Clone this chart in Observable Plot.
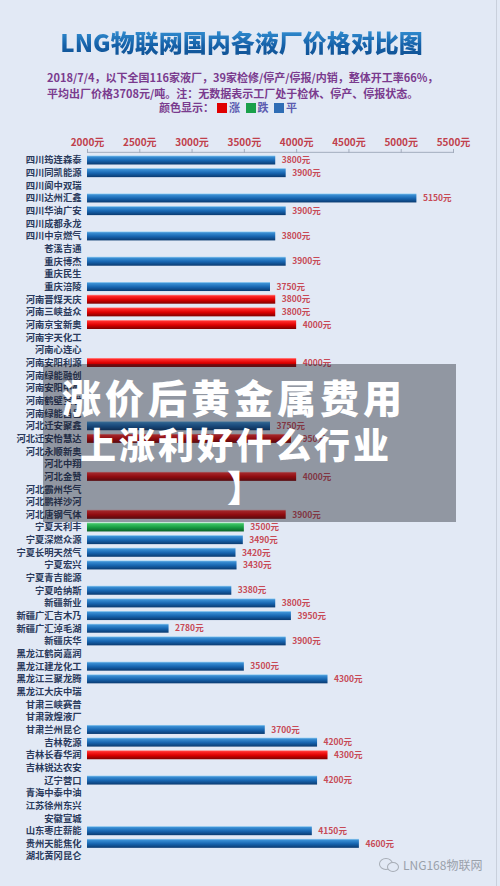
<!DOCTYPE html>
<html>
<head>
<meta charset="utf-8">
<script src="https://cdn.jsdelivr.net/npm/d3@7"></script>
<script src="https://cdn.jsdelivr.net/npm/@observablehq/plot@0.6"></script>
<style>
  html, body { margin: 0; padding: 0; }
  body { width: 500px; height: 886px; background: #e2e9f5; position: relative; overflow: hidden;
         font-family: "Noto Sans CJK SC", "Noto Sans", sans-serif; }
  #border { position: absolute; left: 496px; top: 0; width: 1px; height: 886px; background: #c9d0dc; }
  #title { position: absolute; left: 0; width: 483px; top: 25px; text-align: center; font-size: 24px; font-weight: 900;
           line-height: 34px; color: #1b6db3;
           background: linear-gradient(#3d9fe0, #1560a8 60%, #0f4f8f); -webkit-background-clip: text; background-clip: text;
           -webkit-text-fill-color: transparent; }
  .sub { position: absolute; left: 47px; font-size: 11px; font-weight: bold; color: #7a3b8e; line-height: 14px; white-space: nowrap; }
  #legend { position: absolute; top: 100px; left: 159px; font-size: 11px; font-weight: bold; color: #7a3b8e; line-height: 14px; white-space: nowrap; }
  #legend .sw { display: inline-block; width: 10px; height: 10px; vertical-align: -1px; margin: 0 2px 0 3px; }
  #legend .t { color: #5c5cb0; }
  #chart { position: absolute; left: 0; top: 125px; }
  #ov { position: absolute; left: 43px; top: 364px; width: 413px; height: 158px; background: rgba(25,28,38,0.40); }
  .ovt { position: absolute; color: #fff; font-weight: 900; white-space: nowrap; }
  #wm { position: absolute; left: 403px; top: 856px; font-size: 12px; color: #9aa1ab; }
  .bub { position: absolute; border: 1.5px solid #a7adb6; border-radius: 50%; background: #e2e9f5; }
</style>
</head>
<body>
<div id="border"></div>
<div id="title">LNG物联网国内各液厂价格对比图</div>
<div class="sub" style="top:70px">2018/7/4，以下全国116家液厂，39家检修/停产/停报/内销，整体开工率66%，</div>
<div class="sub" style="top:86px">平均出厂价格3708元/吨。注：无数据表示工厂处于检休、停产、停报状态。</div>
<div id="legend"></div>
<div id="chart"></div>
<div id="ov"></div>
<div class="ovt" style="left:62px; top:372px; font-size:39px; letter-spacing:4px; line-height:48px;">涨价后黄金属费用</div>
<div class="ovt" style="left:80px; top:420px; font-size:36px; letter-spacing:3px; line-height:46px;">上涨利好什么行业</div>
<div class="ovt" style="left:227px; top:464px; font-size:36px; line-height:44px;">】</div>
<div class="bub" style="left:379px; top:858px; width:12px; height:10px;"></div>
<div class="bub" style="left:387px; top:862px; width:10px; height:8px;"></div>
<div id="wm">LNG168物联网</div>
<script>
// ---- data ----
const names = [
  "四川筠连森泰", "四川同凯能源", "四川阆中双瑞", "四川达州汇鑫", "四川华油广安", "四川成都永龙", "四川中京燃气",
  "苍溪吉通", "重庆博杰", "重庆民生", "重庆涪陵",
  "河南晋煤天庆", "河南三峡益众", "河南京宝新奥", "河南宇天化工", "河南心连心", "河南安阳利源", "河南绿能融创",
  "河南安阳中盈", "河南鹤壁宝发", "河南绿能昌邑",
  "河北迁安聚鑫", "河北迁安怡慧达", "河北永顺新奥", "河北中翔", "河北金赞", "河北霸州华气", "河北鹏祥沙河", "河北唐钢气体",
  "宁夏天利丰", "宁夏深燃众源", "宁夏长明天然气", "宁夏宏兴", "宁夏青吉能源", "宁夏哈纳斯",
  "新疆新业", "新疆广汇吉木乃", "新疆广汇淖毛湖", "新疆庆华",
  "黑龙江鹤岗嘉润", "黑龙江建龙化工", "黑龙江三聚龙腾", "黑龙江大庆中瑞",
  "甘肃三峡赛普", "甘肃敦煌液厂", "甘肃兰州昆仑",
  "吉林乾源", "吉林长春华润", "吉林锐达农安", "辽宁营口", "青海中泰中油", "江苏徐州东兴", "安徽宣城",
  "山东枣庄薪能", "贵州天能焦化", "湖北黄冈昆仑"
];
const prices = [
  3800, 3900, null, 5150, 3900, null, 3800,
  null, 3900, null, 3750,
  3800, 3800, 4000, null, null, 4000, null,
  null, null, null,
  3750, 3950, null, null, 4000, null, null, 3900,
  3500, 3490, 3420, 3430, null, 3380,
  3800, 3950, 2780, 3900,
  null, 3500, 4300, null,
  null, null, 3700,
  4200, 4300, null, 4200, null, null, null,
  4150, 4600, null
];
// 涨 = up, 跌 = down, 平 = flat
const trends = [
  "平", "平", "平", "平", "平", "平", "平",
  "平", "平", "平", "平",
  "涨", "涨", "涨", "平", "平", "涨", "平",
  "平", "平", "平",
  "平", "涨", "平", "平", "涨", "平", "平", "涨",
  "跌", "平", "平", "平", "平", "平",
  "平", "平", "平", "平",
  "平", "平", "平", "平",
  "平", "平", "平",
  "平", "涨", "平", "平", "平", "平", "平",
  "平", "平", "平"
];
const xTicks = [2000, 2500, 3000, 3500, 4000, 4500, 5000, 5500];
const legendItems = ["涨", "跌", "平"];
const legendColors = ["#e00000", "#1aa04a", "#2f6db5"];
const unit = "元";

// ---- legend ----
const lg = document.getElementById("legend");
lg.innerHTML = "颜色显示：" + legendItems.map((t, i) =>
  `<span class="sw" style="background:${legendColors[i]}"></span><span class="t">${t}</span>`).join(" ");

// ---- chart ----
const rows = names.map((n, i) => ({name: n, price: prices[i], trend: trends[i]}));
const withData = rows.filter(d => d.price != null);
const gradId = {"涨": "g-up", "跌": "g-down", "平": "g-flat"};

const W = 500, H = 745;
const pad = 0.29;
const yTop = 26.84, yBottom = 739.16;
const step = (yBottom - yTop) / (names.length - pad + 2 * pad);
const firstOffset = step * (pad + (1 - pad) / 2);

const svg = Plot.plot({
  width: W,
  height: H,
  marginLeft: 87,
  marginRight: 47,
  marginTop: 27,
  marginBottom: 6,
  style: {fontFamily: "'Noto Sans CJK SC', sans-serif", background: "transparent", overflow: "visible"},
  x: {domain: [xTicks[0], xTicks[xTicks.length - 1]]},
  y: {domain: names, range: [yTop, yBottom], padding: pad},
  color: {type: "identity"},
  marks: [
    Plot.ruleY([names[0]], {x1: () => xTicks[0], x2: () => xTicks[xTicks.length - 1], dy: -firstOffset, stroke: "#a3acbd"}),
    Plot.axisX({anchor: "top", ticks: xTicks, tickFormat: d => d + unit, tickSize: 4, tickPadding: 3,
                fontSize: 10, fontWeight: "bold", fill: "#c0404c", stroke: "#a3acbd", label: null}),
    Plot.axisY({anchor: "left", tickSize: 0, tickPadding: 6, fontSize: 9.3, fontWeight: "bold", fill: "#2a3a5c", label: null}),
    Plot.barX(withData, {x1: () => xTicks[0], x2: "price", y: "name", fill: d => `url(#${gradId[d.trend]})`}),
    Plot.text(withData, {x: "price", y: "name", text: d => d.price + unit, textAnchor: "start", dx: 6,
                         fontSize: 8.5, fontWeight: "bold", fill: "#c74a56"})
  ]
});

d3.select(svg).insert("defs", ":first-child").html(`
  <linearGradient id="g-flat" x1="0" y1="0" x2="0" y2="1">
    <stop offset="0" stop-color="#9fd3f4"/>
    <stop offset="0.15" stop-color="#3a8fd4"/>
    <stop offset="0.55" stop-color="#1765b0"/>
    <stop offset="1" stop-color="#0a3a70"/>
  </linearGradient>
  <linearGradient id="g-up" x1="0" y1="0" x2="0" y2="1">
    <stop offset="0" stop-color="#ff9a9a"/>
    <stop offset="0.15" stop-color="#ff2a2a"/>
    <stop offset="0.55" stop-color="#dd0000"/>
    <stop offset="1" stop-color="#7e0000"/>
  </linearGradient>
  <linearGradient id="g-down" x1="0" y1="0" x2="0" y2="1">
    <stop offset="0" stop-color="#a6e8b8"/>
    <stop offset="0.15" stop-color="#3cc464"/>
    <stop offset="0.55" stop-color="#179c42"/>
    <stop offset="1" stop-color="#0b6028"/>
  </linearGradient>`);

document.getElementById("chart").appendChild(svg);
</script>
</body>
</html>
